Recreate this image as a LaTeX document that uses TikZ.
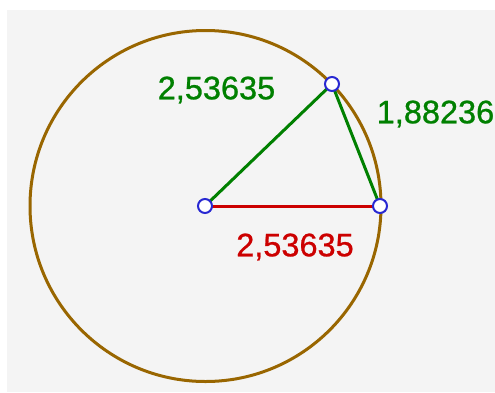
\documentclass[tikz,border=0pt]{standalone}
\usepackage{fontspec}
\setmainfont{Liberation Sans}
\newfontfamily\lblfont{Liberation Sans}[FakeBold=0.8]
\definecolor{bgray}{RGB}{244,244,244}
\definecolor{ggreen}{RGB}{0,128,0}
\definecolor{gred}{RGB}{204,0,0}
\definecolor{gbrown}{RGB}{153,102,0}
\definecolor{gblue}{RGB}{40,40,210}
\begin{document}
\begin{tikzpicture}[x=1pt,y=-1pt,
  pt/.style={circle,draw=gblue,fill=white,line width=2pt,minimum size=14pt,inner sep=0pt},
  lbl/.style={font=\lblfont\fontsize{32.5}{32.5}\selectfont,inner sep=0pt},
  seg/.style={line width=3pt}]
\useasboundingbox (0,0) rectangle (495,392);
\fill[white] (0,0) rectangle (495,392);
\fill[bgray] (7,10) rectangle (495,392);
\draw[gbrown,line width=3pt] (205.5,206) circle[radius=175.5];
\coordinate (a) at (205,206);
\coordinate (b) at (380,206);
\coordinate (c) at (332,84);
\draw[seg,gred] (a) -- (b);
\draw[seg,ggreen] (a) -- (c);
\draw[seg,ggreen] (c) -- (b);
\node[pt] (A) at (a) {};
\node[pt] (B) at (b) {};
\node[pt] (C) at (c) {};
\node[lbl,text=ggreen] (l1) at (216.5,90) {2,53635};
\node[lbl,text=ggreen] (l2) at (435.5,114) {1,88236};
\node[lbl,text=gred] (l3) at (295,247) {2,53635};
\end{tikzpicture}
\end{document}
